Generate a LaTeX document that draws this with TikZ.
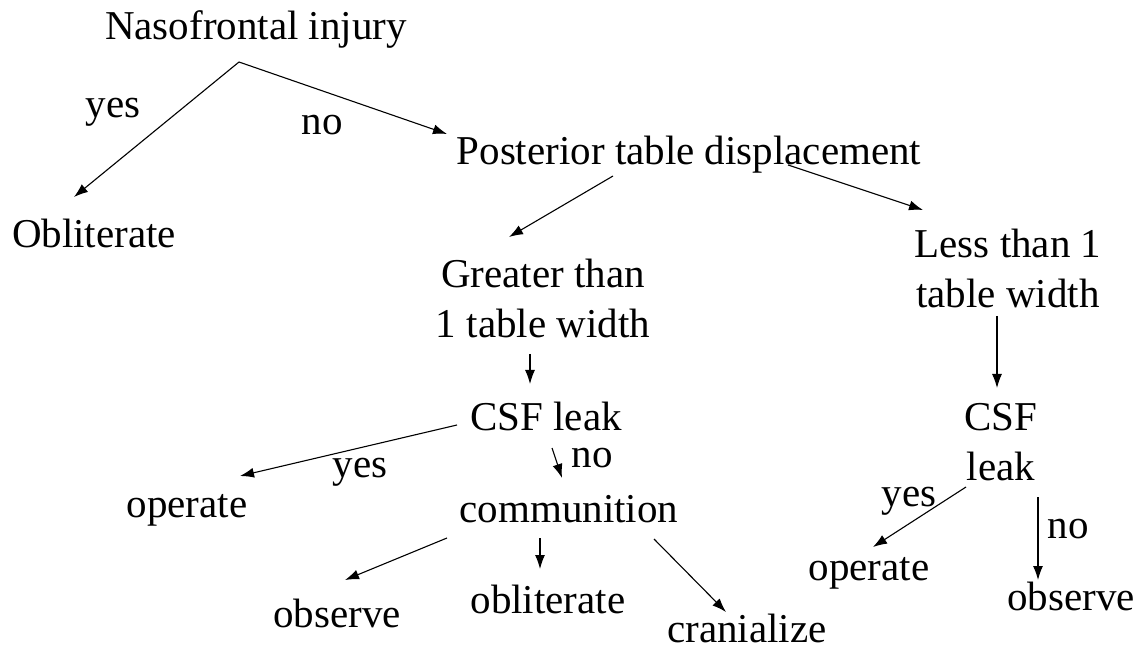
\documentclass[tikz,border=0pt]{standalone}
\usepackage{fontspec}
\setmainfont{Liberation Serif}
\usetikzlibrary{arrows.meta}
\tikzset{
  lbl/.style={anchor=base, inner sep=0pt, font=\fontsize{41}{47}\selectfont},
  arr/.style={-{Latex[length=14pt,width=10pt]}, line width=1.1pt}
}
\begin{document}
\begin{tikzpicture}[x=1pt,y=-1pt]
\useasboundingbox[fill=white] (0,0) rectangle (1141,652);
% top level
\node[lbl] (nas) at (256,40) {Nasofrontal injury};
\coordinate (apex) at (239,62);
\node[lbl] (obl) at (94,248) {Obliterate};
\coordinate (oblt) at (74,197);
\node[lbl] (yes1) at (113,118) {yes};
\node[lbl] (no1) at (322,135) {no};
\node[lbl] (post) at (689,165) {Posterior table displacement};
\coordinate (postt) at (447,134);
% posterior branches
\coordinate (pgs) at (613,176);
\coordinate (pgt) at (509,237);
\node[lbl] (gr1) at (543,288) {Greater than};
\node[lbl] (gr2) at (543,338) {1 table width};
\coordinate (pls) at (788,165);
\coordinate (plt) at (923,210);
\node[lbl] (le1) at (1008,258) {Less than 1};
\node[lbl] (le2) at (1008,308) {table width};
% left CSF leak subtree
\coordinate (gcs) at (530,354);
\coordinate (gct) at (530,384);
\node[lbl] (csf) at (546,430) {CSF leak};
\coordinate (cos) at (457,425);
\coordinate (cot) at (240,476);
\node[lbl] (yes2) at (360,477) {yes};
\node[lbl] (op1) at (187,517) {operate};
\coordinate (ccs) at (552,448);
\coordinate (cct) at (562,478);
\node[lbl] (no2) at (592,467) {no};
\node[lbl] (com) at (569,522) {communition};
\coordinate (c1s) at (447,538);
\coordinate (c1t) at (345,580);
\coordinate (c2s) at (540,538);
\coordinate (c2t) at (540,569);
\coordinate (c3s) at (654,539);
\coordinate (c3t) at (726,612);
\node[lbl] (obs1) at (337,627) {observe};
\node[lbl] (obl2) at (548,613) {obliterate};
\node[lbl] (cra) at (747,642) {cranialize};
% right CSF leak subtree
\coordinate (lcs) at (997,316);
\coordinate (lct) at (997,388);
\node[lbl] (csfr) at (1001,430) {CSF};
\node[lbl] (leak) at (1001,480) {leak};
\coordinate (los) at (966,487);
\coordinate (lot) at (873,547);
\node[lbl] (yes3) at (909,506) {yes};
\node[lbl] (op2) at (869,580) {operate};
\coordinate (lbs) at (1038,497);
\coordinate (lbt) at (1038,580);
\node[lbl] (no3) at (1068,538) {no};
\node[lbl] (obs2) at (1071,610) {observe};
% connectors
\draw[arr] (apex) -- (oblt);
\draw[arr] (apex) -- (postt);
\draw[arr] (pgs) -- (pgt);
\draw[arr] (pls) -- (plt);
\draw[arr] (gcs) -- (gct);
\draw[arr] (cos) -- (cot);
\draw[arr] (ccs) -- (cct);
\draw[arr] (c1s) -- (c1t);
\draw[arr] (c2s) -- (c2t);
\draw[arr] (c3s) -- (c3t);
\draw[arr] (lcs) -- (lct);
\draw[arr] (los) -- (lot);
\draw[arr] (lbs) -- (lbt);
\end{tikzpicture}
\end{document}
